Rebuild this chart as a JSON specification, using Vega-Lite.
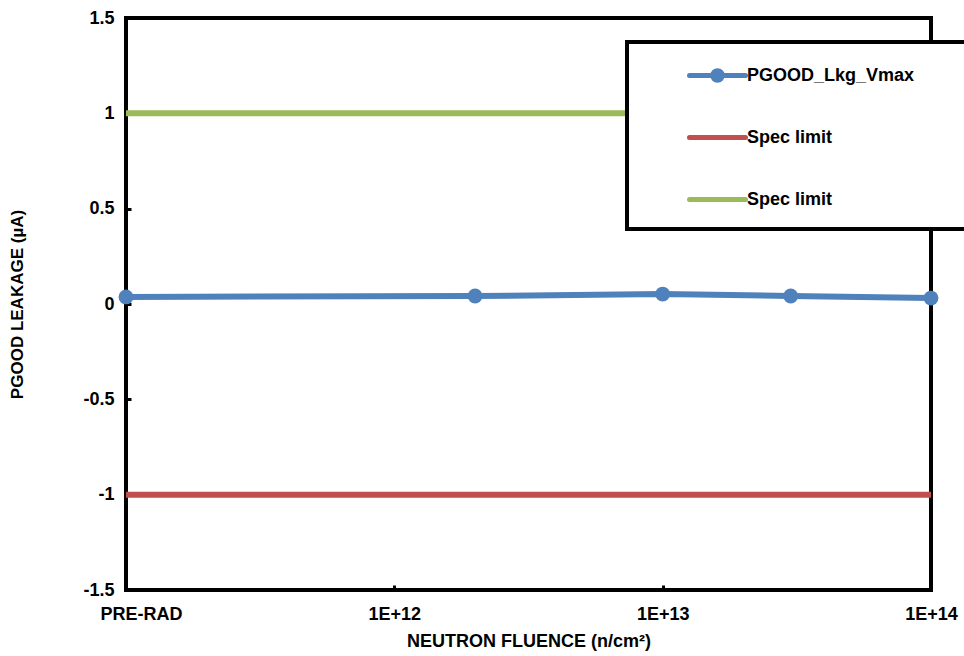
{
  "$schema": "https://vega.github.io/schema/vega-lite/v6.json",
  "width": 805,
  "height": 572,
  "autosize": "none",
  "padding": {"left": 126, "top": 18, "right": 33, "bottom": 66},
  "background": "white",
  "config": {
    "view": {"stroke": "black", "strokeWidth": 4},
    "font": "Liberation Sans"
  },
  "data": {
    "values": [
      {"fluence": 1e11, "leakage": 0.037, "series": "PGOOD_Lkg_Vmax"},
      {"fluence": 2e12, "leakage": 0.042, "series": "PGOOD_Lkg_Vmax"},
      {"fluence": 1e13, "leakage": 0.052, "series": "PGOOD_Lkg_Vmax"},
      {"fluence": 3e13, "leakage": 0.042, "series": "PGOOD_Lkg_Vmax"},
      {"fluence": 1e14, "leakage": 0.031, "series": "PGOOD_Lkg_Vmax"},
      {"fluence": 1e11, "leakage": -1, "series": "Spec limit low"},
      {"fluence": 1e14, "leakage": -1, "series": "Spec limit low"},
      {"fluence": 1e11, "leakage": 1, "series": "Spec limit high"},
      {"fluence": 1e14, "leakage": 1, "series": "Spec limit high"}
    ]
  },
  "encoding": {
    "x": {
      "field": "fluence",
      "type": "quantitative",
      "scale": {"type": "log", "domain": [1e11, 1e14], "nice": false},
      "axis": {
        "values": [1e11, 1e12, 1e13, 1e14],
        "labelExpr": "datum.value < 5e11 ? 'PRE-RAD' : datum.value < 5e12 ? '1E+12' : datum.value < 5e13 ? '1E+13' : '1E+14'",
        "domain": false,
        "grid": false,
        "tickSize": -5,
        "tickWidth": 3,
        "tickColor": "black",
        "labelPadding": 20,
        "labelFontSize": 18,
        "labelFontWeight": "bold",
        "labelColor": "black",
        "labelFlush": false,
        "labelOffset": {"condition": {"test": "datum.value < 5e11", "value": 15}, "value": 0},
        "title": "NEUTRON FLUENCE (n/cm²)",
        "titleFontSize": 18,
        "titleFontWeight": "bold",
        "titleColor": "black",
        "titlePadding": 9
      }
    },
    "y": {
      "field": "leakage",
      "type": "quantitative",
      "scale": {"domain": [-1.5, 1.5], "nice": false, "zero": false},
      "axis": {
        "values": [-1.5, -1, -0.5, 0, 0.5, 1, 1.5],
        "labelExpr": "'' + datum.value",
        "domain": false,
        "grid": false,
        "tickSize": -5,
        "tickWidth": 3,
        "tickColor": "black",
        "labelPadding": 17,
        "labelFontSize": 18,
        "labelFontWeight": "bold",
        "labelColor": "black",
        "labelFlush": false,
        "title": "PGOOD LEAKAGE (µA)",
        "titleFontSize": 17,
        "titleFontWeight": "bold",
        "titleColor": "black",
        "titlePadding": 56
      }
    },
    "color": {
      "field": "series",
      "type": "nominal",
      "scale": {
        "domain": ["PGOOD_Lkg_Vmax", "Spec limit low", "Spec limit high"],
        "range": ["#4F81BD", "#C0504D", "#9BBB59"]
      },
      "legend": {
        "orient": "none",
        "legendX": 501,
        "legendY": 24,
        "title": "\u200b",
        "titleOrient": "bottom",
        "titleFontSize": 9,
        "titlePadding": 3,
        "labelExpr": "datum.value == 'PGOOD_Lkg_Vmax' ? 'PGOOD_Lkg_Vmax\u00a0\u00a0\u00a0\u00a0\u00a0\u00a0\u00a0\u00a0\u00a0\u00a0\u200b' : 'Spec limit'",
        "labelFontSize": 18,
        "labelFontWeight": "bold",
        "labelColor": "black",
        "labelOffset": -1,
        "labelLimit": 500,
        "symbolType": "stroke",
        "symbolSize": 3136,
        "symbolStrokeWidth": 5,
        "symbolOffset": 57,
        "rowPadding": 16,
        "padding": 3,
        "strokeColor": "black",
        "fillColor": "white",
        "encode": {
          "legend": {"update": {"strokeWidth": {"value": 4}}},
          "symbols": {
            "update": {
              "shape": {"signal": "datum.value == 'PGOOD_Lkg_Vmax' ? 'M-1,0H1M0.17,0A0.17,0.17 0 1 1 -0.17,0A0.17,0.17 0 1 1 0.17,0Z' : 'M-1,0H1M0,-0.17M0,0.17'"},
              "fill": {"signal": "datum.value == 'PGOOD_Lkg_Vmax' ? '#4F81BD' : 'transparent'"},
              "strokeWidth": {"value": 5},
              "strokeCap": {"value": "round"}
            }
          }
        }
      }
    }
  },
  "layer": [
    {
      "mark": {"type": "line", "strokeWidth": 6, "clip": false}
    },
    {
      "transform": [{"filter": "datum.series == 'PGOOD_Lkg_Vmax'"}],
      "mark": {"type": "point", "filled": true, "size": 220, "opacity": 1, "clip": false}
    }
  ]
}
